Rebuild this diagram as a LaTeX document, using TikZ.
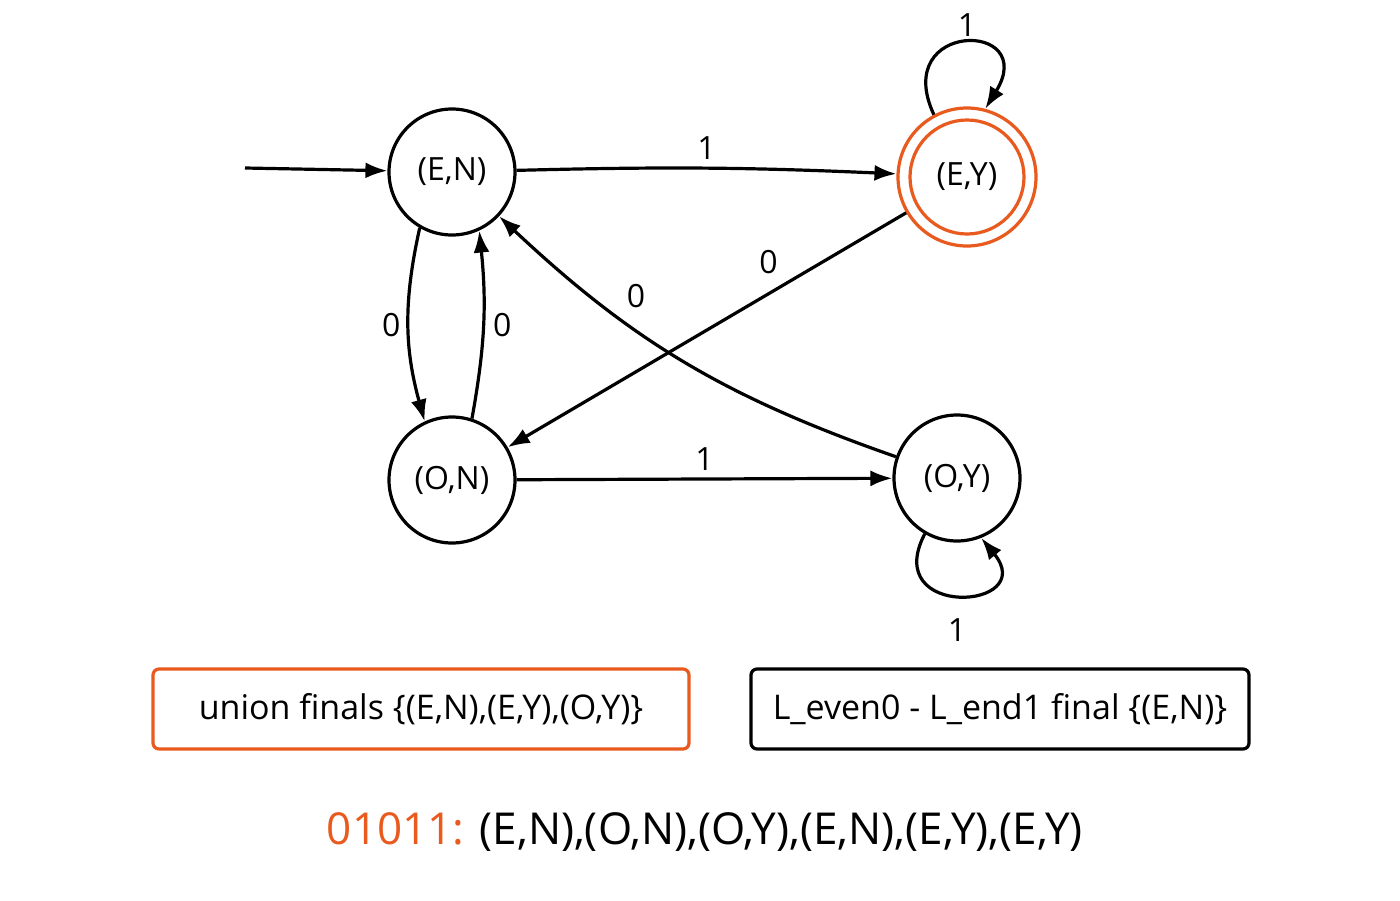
\documentclass[tikz,border=0pt]{standalone}
\usepackage{fontspec}
\setmainfont{Open Sans}
\usetikzlibrary{arrows.meta}
\definecolor{org}{RGB}{232,90,30}
\begin{document}
\begin{tikzpicture}[x=1pt,y=-1pt,
  st/.style={circle,draw,line width=3.2pt,minimum size=126pt,inner sep=0pt,font=\fontsize{32}{36}\selectfont},
  e/.style={line width=3.2pt,-{Latex[length=22pt,width=16pt]}},
  lb/.style={font=\fontsize{32}{36}\selectfont},
  box/.style={draw,line width=3.2pt,rounded corners=6pt,font=\fontsize{34}{38}\selectfont}]
\useasboundingbox[fill=white] (0,0) rectangle (1400,900);
\node[st] (en) at (452,172) {(E,N)};
\node[st,draw=org,minimum size=138pt] (ey) at (967,177) {(E,Y)};
\node[circle,draw=org,line width=3.2pt,minimum size=114pt] at (967,177) {};
\node[st] (on) at (452,480) {(O,N)};
\node[st] (oy) at (957,478) {(O,Y)};
\coordinate (s) at (245,168);
\draw[e] (s) -- (en);
\draw[e] (en) to[bend left=2] node[lb,above=4pt]{1} (ey);
\draw[e] (ey) -- node[lb,pos=0.3,above left=4pt]{0} (on);
\draw[e] (oy) to[bend left=12] node[lb,pos=0.68,above right=4pt]{0} (en);
\draw[e] (en.240) to[bend right=14] node[lb,left=3pt]{0} (on.115);
\draw[e] (on.72) to[bend right=8] node[lb,right=5pt]{0} (en.295);
\draw[e] (on) -- node[lb,above=4pt]{1} (oy);
\draw[e] (ey.118) .. controls (890,20) and (1040,20) .. (ey.75);
\node[lb] (l1) at (967,25) {1};
\draw[e] (oy.240) .. controls (880,620) and (1040,610) .. (oy.292);
\node[lb] (l2) at (957,630) {1};
\node[box,draw=org,minimum width=536pt,minimum height=80pt] (b1) at (421,709) {union finals \{(E,N),(E,Y),(O,Y)\}};
\node[box,minimum width=498pt,minimum height=80pt] (b2) at (1000,709) {L\_even0 - L\_end1 final \{(E,N)\}};
\node[font=\fontsize{44}{48}\selectfont] (t) at (705,832) {\textcolor{org}{01011:} (E,N),(O,N),(O,Y),(E,N),(E,Y),(E,Y)};
\end{tikzpicture}
\end{document}
